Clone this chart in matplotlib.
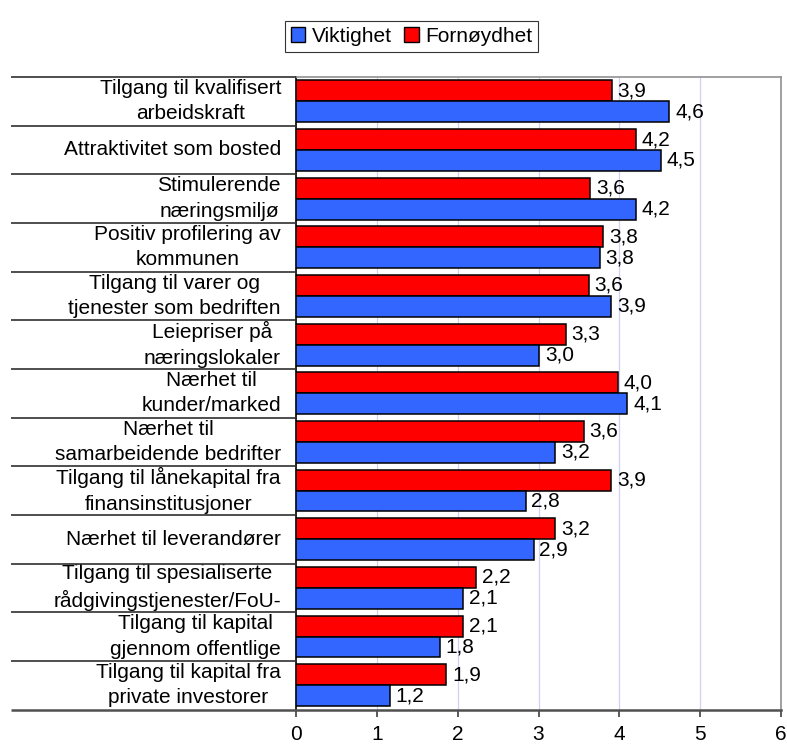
import matplotlib
matplotlib.use("Agg")
import matplotlib.pyplot as plt
import matplotlib.transforms as mtransforms
from matplotlib.patches import Patch

plt.rcParams['font.family'] = ['Liberation Sans', 'DejaVu Sans']

categories = [
    "Tilgang til kvalifisert\narbeidskraft",
    "Attraktivitet som bosted",
    "Stimulerende\nnæringsmiljø",
    "Positiv profilering av\nkommunen",
    "Tilgang til varer og\ntjenester som bedriften",
    "Leiepriser på\nnæringslokaler",
    "Nærhet til\nkunder/marked",
    "Nærhet til\nsamarbeidende bedrifter",
    "Tilgang til lånekapital fra\nfinansinstitusjoner",
    "Nærhet til leverandører",
    "Tilgang til spesialiserte\nrådgivingstjenester/FoU-",
    "Tilgang til kapital\ngjennom offentlige",
    "Tilgang til kapital fra\nprivate investorer",
]
viktighet = [4.62, 4.51, 4.20, 3.76, 3.90, 3.01, 4.10, 3.21, 2.84, 2.94, 2.07, 1.78, 1.16]
fornoydhet = [3.91, 4.21, 3.64, 3.80, 3.62, 3.34, 3.98, 3.56, 3.90, 3.21, 2.23, 2.07, 1.86]
series_names = ["Viktighet", "Fornøydhet"]
xticks = [0, 1, 2, 3, 4, 5, 6]

W, H = 787, 744
fig = plt.figure(figsize=(W / 100, H / 100), dpi=100)
x0, x1 = 296, 781
y0, y1 = 77, 709.5
ax = fig.add_axes([x0 / W, 1 - y1 / H, (x1 - x0) / W, (y1 - y0) / H])

blue = '#3366FF'
red = '#FF0000'
fs = 15
bh = 0.43
n = len(categories)
pos = list(range(n))

ax.barh([p - bh / 2 for p in pos], fornoydhet, height=bh, color=red,
        edgecolor='black', linewidth=1.1, zorder=3)
ax.barh([p + bh / 2 for p in pos], viktighet, height=bh, color=blue,
        edgecolor='black', linewidth=1.1, zorder=3)

for p, v in zip(pos, fornoydhet):
    ax.text(v + 0.07, p - bh / 2, f"{v:.1f}".replace('.', ','), va='center',
            ha='left', fontsize=fs, zorder=4)
for p, v in zip(pos, viktighet):
    ax.text(v + 0.07, p + bh / 2, f"{v:.1f}".replace('.', ','), va='center',
            ha='left', fontsize=fs, zorder=4)

ax.set_xlim(0, 6)
ax.set_ylim(n - 0.5, -0.5)
ax.set_xticks(xticks)
ax.set_xticklabels([str(t) for t in xticks], fontsize=fs)
ax.set_yticks([])
ax.tick_params(axis='x', direction='out', length=5, width=1.2, color='#404040', pad=6)

for t in xticks[1:]:
    ax.axvline(t, color='#D0D0F5', linewidth=0.9, zorder=1)

for side in ['top', 'right']:
    ax.spines[side].set_color('#909090')
    ax.spines[side].set_linewidth(1.2)
ax.spines['left'].set_color('black')
ax.spines['left'].set_linewidth(1.2)
ax.spines['bottom'].set_color('#505050')
ax.spines['bottom'].set_linewidth(1.8)

# category separators in label area
trans = mtransforms.blended_transform_factory(ax.transAxes, ax.transData)
left_frac = (11 - x0) / (x1 - x0)
for b in range(n + 1):
    yb = b - 0.5
    lw = 1.8 if b == n else 1.2
    col = '#505050' if b == n else '#303030'
    ax.plot([left_frac, 0], [yb, yb], transform=trans, color=col,
            linewidth=lw, clip_on=False, zorder=5, solid_capstyle='butt')

# category labels
label_x = -(x0 - 281) / (x1 - x0)
for p, c in zip(pos, categories):
    ax.text(label_x, p, c, transform=trans, ha='right', va='center',
            multialignment='center', fontsize=fs, linespacing=1.42)

handles = [Patch(facecolor=blue, edgecolor='black', linewidth=1.0),
           Patch(facecolor=red, edgecolor='black', linewidth=1.0)]
leg = fig.legend(handles, series_names, loc='center', ncol=2,
                 bbox_to_anchor=(411.5 / W, 1 - 36.5 / H), fontsize=fs,
                 frameon=True, fancybox=False, edgecolor='black',
                 handlelength=0.7, handleheight=0.7, handletextpad=0.3,
                 columnspacing=0.6, borderpad=0.3, borderaxespad=0)
leg.get_frame().set_linewidth(0.8)

fig.savefig('out.png', dpi=100)
